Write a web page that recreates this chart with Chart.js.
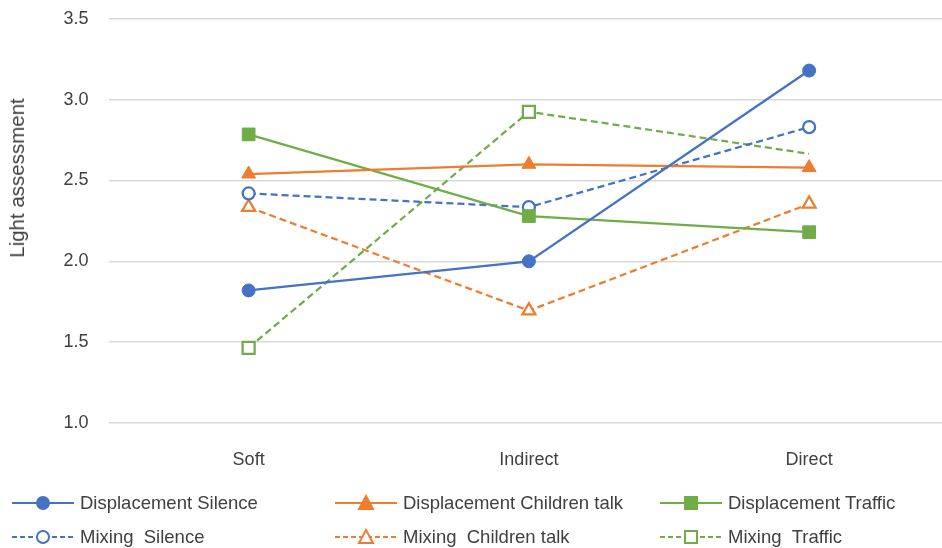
<!DOCTYPE html>
<html lang="en">
<head>
  <meta charset="UTF-8">
  <title>Light assessment</title>
  <script src="https://cdn.jsdelivr.net/npm/chart.js"></script>
  <style>
    html, body { margin: 0; padding: 0; background: #fff; }
    body { font-family: "Liberation Sans", Arial, sans-serif; }
    #wrap { position: relative; width: 942px; height: 548px; overflow: hidden; }
    #chart { position: absolute; left: 0; top: -12.5px; }
    #yTitle {
      position: absolute; left: 17px; top: 178px;
      transform: translate(-50%, -50%) rotate(-90deg);
      font-size: 20.5px; color: #404040; white-space: nowrap;
    }
    .leg { position: absolute; display: flex; align-items: center; font-size: 18.5px; color: #404040; white-space: nowrap; }
    .leg svg { margin-right: 6px; }
  </style>
</head>
<body>
<div id="wrap">
  <canvas id="chart" width="960" height="548"></canvas>
  <div id="yTitle">Light assessment</div>
  <div id="legend"></div>
</div>

<script>
  // カテゴリ
  const categories = ['Soft', 'Indirect', 'Direct'];
  const yTicks = [1.0, 1.5, 2.0, 2.5, 3.0, 3.5];

  // 系列の値
  const dispSilence = [1.82, 2.00, 3.18];
  const dispChildren = [2.54, 2.60, 2.58];
  const dispTraffic = [2.785, 2.28, 2.18];
  const mixSilence = [2.42, 2.335, 2.83];
  const mixChildren = [2.335, 1.695, 2.355];
  const mixTraffic = [1.465, 2.925, 2.665];

  const BLUE = '#4472C4', ORANGE = '#ED7D31', GREEN = '#70AD47';

  const series = [
    { label: 'Displacement Silence', data: dispSilence, color: BLUE, shape: 'circle', hollow: false, dash: [] },
    { label: 'Displacement Children talk', data: dispChildren, color: ORANGE, shape: 'triangle', hollow: false, dash: [] },
    { label: 'Displacement Traffic', data: dispTraffic, color: GREEN, shape: 'rect', hollow: false, dash: [] },
    { label: 'Mixing  Silence', data: mixSilence, color: BLUE, shape: 'circle', hollow: true, dash: [7, 4] },
    { label: 'Mixing  Children talk', data: mixChildren, color: ORANGE, shape: 'triangle', hollow: true, dash: [7, 4] },
    { label: 'Mixing  Traffic', data: mixTraffic, color: GREEN, shape: 'rect', hollow: true, dash: [7, 4], noLastMarker: true }
  ];

  // マーカーの大きさ
  const markerSize = { circle: 6.5, triangle: 8, rect: 9 };

  const datasets = series.map(s => {
    const r = markerSize[s.shape] - (s.hollow ? 0.5 : 0);
    return {
      label: s.label,
      data: s.data,
      borderColor: s.color,
      borderWidth: 2.25,
      borderDash: s.dash,
      pointStyle: s.shape,
      pointRadius: s.noLastMarker ? [r, r, 0] : r,
      pointBorderWidth: s.hollow ? 2.25 : 1,
      pointBackgroundColor: s.hollow ? '#fff' : s.color,
      pointBorderColor: s.color,
      fill: false,
      tension: 0
    };
  });

  new Chart(document.getElementById('chart'), {
    type: 'line',
    data: { labels: categories, datasets: datasets },
    options: {
      responsive: false,
      animation: false,
      layout: { padding: { top: 0, right: 0, bottom: 63, left: 0 } },
      plugins: { legend: { display: false }, tooltip: { enabled: false } },
      scales: {
        x: {
          offset: true,
          grid: { display: false },
          border: { display: false },
          ticks: { color: '#404040', font: { family: 'Liberation Sans', size: 18 }, padding: 18 },
          afterFit: s => { s.height = 50; }
        },
        y: {
          min: yTicks[0],
          max: yTicks[yTicks.length - 1],
          afterBuildTicks: s => { s.ticks = yTicks.map(v => ({ value: v })); },
          grid: { color: '#d9d9d9', lineWidth: 1.5, drawTicks: false },
          border: { display: false },
          ticks: {
            color: '#404040', font: { family: 'Liberation Sans', size: 18 }, padding: 20,
            callback: v => Number(v).toFixed(1)
          },
          afterFit: s => { s.width = 108.5; }
        }
      }
    }
  });

  // 凡例
  const legendPos = [[12, 503], [335, 503], [660, 503], [12, 537], [335, 537], [660, 537]];
  const legend = document.getElementById('legend');
  series.forEach((s, i) => {
    const fill = s.hollow ? '#fff' : s.color;
    let marker;
    if (s.shape === 'circle') marker = `<circle cx="31" cy="9" r="6" fill="${fill}" stroke="${s.color}" stroke-width="2"/>`;
    else if (s.shape === 'triangle') marker = `<polygon points="31,2 38,15 24,15" fill="${fill}" stroke="${s.color}" stroke-width="2"/>`;
    else marker = `<rect x="25" y="3" width="12" height="12" fill="${fill}" stroke="${s.color}" stroke-width="2"/>`;
    const dash = s.dash.length ? 'stroke-dasharray="5,3"' : '';
    const div = document.createElement('div');
    div.className = 'leg';
    div.style.left = legendPos[i][0] + 'px';
    div.style.top = (legendPos[i][1] - 11) + 'px';
    div.innerHTML = `<svg width="62" height="18"><line x1="0" y1="9" x2="62" y2="9" stroke="${s.color}" stroke-width="2" ${dash}/>${marker}</svg><span>${s.label.replace(/  /g, ' &nbsp;')}</span>`;
    legend.appendChild(div);
  });
</script>
</body>
</html>
